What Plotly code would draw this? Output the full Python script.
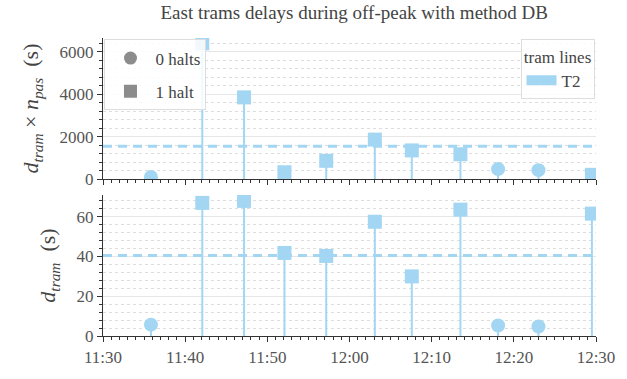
import plotly.graph_objects as go
from plotly.subplots import make_subplots

# Departure times of the east-bound T2 trams in the window
times = ["11:35:50", "11:42:05", "11:47:10", "11:52:05", "11:57:10", "12:03:05",
         "12:07:35", "12:13:30", "12:18:05", "12:23:00", "12:29:30"]
# Number of halts per tram (0 -> circle, 1 -> square)
halts = [0, 1, 1, 1, 1, 1, 1, 1, 0, 0, 1]
# Delay per tram (s)
d_tram = [5.7, 67, 68, 41.8, 40.3, 57.5, 30, 63.6, 5.3, 4.8, 61.6]
# Delay weighted by number of passengers (s)
d_weighted = [100, 6400, 3850, 320, 860, 1860, 1350, 1170, 470, 420, 200]

tick_labels = ["11:30", "11:40", "11:50", "12:00", "12:10", "12:20", "12:30"]

DAY = "2024-01-01 "
x = [DAY + t for t in times]
x_ticks = [DAY + t + ":00" for t in tick_labels]
x_range = [x_ticks[0], x_ticks[-1]]

BLUE = "#a3d6f2"
GRAY = "#8c8c8c"
FONT = "Liberation Serif"
symbols = ["circle" if h == 0 else "square" for h in halts]

fig = make_subplots(rows=2, cols=1, shared_xaxes=True, vertical_spacing=0.0533)


def add_panel(values, row):
    # stems from zero up to each value
    sx, sy = [], []
    for xi, v in zip(x, values):
        sx += [xi, xi, None]
        sy += [0, v, None]
    fig.add_trace(go.Scatter(x=sx, y=sy, mode="lines", line=dict(color=BLUE, width=2),
                             showlegend=False, hoverinfo="skip"), row=row, col=1)
    # mean level
    mean = sum(values) / len(values)
    fig.add_trace(go.Scatter(x=x_range, y=[mean, mean], mode="lines",
                             line=dict(color=BLUE, width=3, dash="9px,6px"),
                             showlegend=False, hoverinfo="skip"), row=row, col=1)
    fig.add_trace(go.Scatter(x=x, y=values, mode="markers",
                             marker=dict(color=BLUE, size=14, symbol=symbols),
                             showlegend=False), row=row, col=1)


add_panel(d_weighted, 1)
add_panel(d_tram, 2)

# legend: number of halts
fig.add_trace(go.Scatter(x=[None], y=[None], mode="markers", name="0 halts",
                         marker=dict(color=GRAY, size=13, symbol="circle"),
                         legend="legend", legendgroup="a"), row=1, col=1)
fig.add_trace(go.Scatter(x=[None], y=[None], mode="markers", name="1 halt",
                         marker=dict(color=GRAY, size=13, symbol="square"),
                         legend="legend", legendgroup="b"), row=1, col=1)
# legend: tram lines
fig.add_trace(go.Scatter(x=[None], y=[None], mode="lines", name="T2",
                         line=dict(color=BLUE, width=14),
                         legend="legend2"), row=1, col=1)

axis_common = dict(showline=True, linecolor="#333333", linewidth=1.2,
                   ticks="outside", ticklen=5, tickcolor="#333333",
                   tickfont=dict(family=FONT, size=17, color="#555555"),
                   zeroline=False)

fig.update_xaxes(type="date", range=x_range, tickvals=x_ticks, ticktext=tick_labels,
                 showgrid=False,
                 minor=dict(dtick=60000, ticks="outside", ticklen=3, tickcolor="#333333",
                            showgrid=False),
                 **axis_common)
fig.update_xaxes(showticklabels=False, row=1, col=1)

fig.update_yaxes(range=[0, 6650], tickvals=[0, 2000, 4000, 6000],
                 showgrid=True, gridcolor="#e6e6e6", gridwidth=1.2,
                 minor=dict(dtick=400, ticks="outside", ticklen=3, tickcolor="#333333",
                            showgrid=True, gridcolor="#dddddd", griddash="dot", gridwidth=1),
                 title=dict(text="<i>d</i><sub><i>tram</i></sub> × <i>n</i><sub><i>pas</i></sub>  (s)",
                            font=dict(family=FONT, size=22, color="#444444"), standoff=14),
                 row=1, col=1, **axis_common)
fig.update_yaxes(range=[0, 71], tickvals=[0, 20, 40, 60],
                 showgrid=True, gridcolor="#e6e6e6", gridwidth=1.2,
                 minor=dict(dtick=4, ticks="outside", ticklen=3, tickcolor="#333333",
                            showgrid=True, gridcolor="#dddddd", griddash="dot", gridwidth=1),
                 title=dict(text="<i>d</i><sub><i>tram</i></sub>  (s)",
                            font=dict(family=FONT, size=22, color="#444444"), standoff=14),
                 row=2, col=1, **axis_common)

fig.update_layout(
    width=627, height=379,
    margin=dict(l=103, r=22, t=38, b=41),
    plot_bgcolor="white", paper_bgcolor="white",
    title=dict(text="East trams delays during off-peak with method DB",
               font=dict(family=FONT, size=19, color="#444444"),
               x=0.565, xanchor="center", y=0.985, yanchor="top"),
    legend=dict(x=0.003, y=0.995, xanchor="left", yanchor="top",
                bgcolor="rgba(255,255,255,0.85)", bordercolor="#dddddd", borderwidth=1,
                font=dict(family=FONT, size=17, color="#444444"),
                traceorder="grouped", tracegroupgap=8, itemwidth=40),
    legend2=dict(x=0.997, y=0.995, xanchor="right", yanchor="top",
                 bgcolor="rgba(255,255,255,0.85)", bordercolor="#dddddd", borderwidth=1,
                 font=dict(family=FONT, size=17, color="#444444"),
                 title=dict(text="tram lines", side="top center",
                            font=dict(family=FONT, size=17, color="#444444"))),
)

fig.write_html("out.html")
